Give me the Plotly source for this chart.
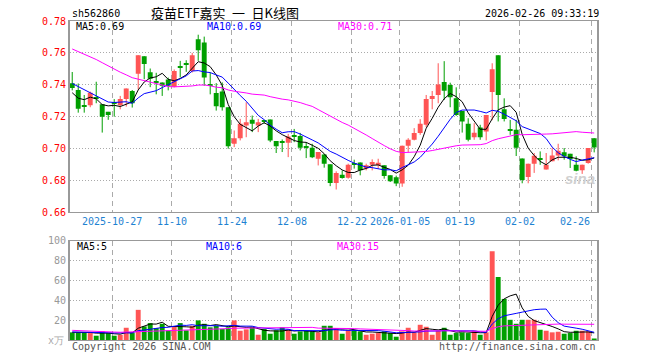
import plotly.graph_objects as go

# ---------------- data ----------------
open_ = [0.741, 0.7367, 0.7263, 0.7271, 0.732, 0.7278, 0.723, 0.729, 0.7271, 0.7311,
         0.7361, 0.7469, 0.7579, 0.7479, 0.7415, 0.7415, 0.7433, 0.7388, 0.7513, 0.7528,
         0.7486, 0.7685, 0.7665, 0.740, 0.7348, 0.7358, 0.7259, 0.703, 0.7065, 0.7144,
         0.718, 0.7144, 0.7171, 0.7182, 0.7047, 0.7037, 0.7036, 0.7076, 0.7078, 0.7005,
         0.7005, 0.6936, 0.6963, 0.6901, 0.6784, 0.6836, 0.6817, 0.6903, 0.6913, 0.6874,
         0.6899, 0.6899, 0.6895, 0.6832, 0.682, 0.678, 0.7018, 0.7055, 0.7097, 0.7149,
         0.7311, 0.7336, 0.7417, 0.7398, 0.7315, 0.7236, 0.7155, 0.707, 0.7132, 0.7107,
         0.7355, 0.7585, 0.7246, 0.7114, 0.7118, 0.6938, 0.6822, 0.6905, 0.693, 0.6868,
         0.692, 0.6957, 0.6976, 0.6967, 0.6899, 0.6863, 0.6909, 0.7065]
high = [0.748, 0.7408, 0.7336, 0.7357, 0.7419, 0.7278, 0.723, 0.731, 0.733, 0.7377,
        0.7367, 0.7585, 0.7579, 0.7502, 0.7475, 0.7415, 0.7445, 0.7496, 0.755, 0.7554,
        0.760, 0.7714, 0.7702, 0.7477, 0.741, 0.7415, 0.7259, 0.7113, 0.7186, 0.729,
        0.7207, 0.7186, 0.7175, 0.7182, 0.7047, 0.7057, 0.7092, 0.7123, 0.7098, 0.704,
        0.703, 0.6978, 0.6967, 0.6901, 0.6857, 0.6863, 0.6905, 0.693, 0.6913, 0.6905,
        0.6932, 0.6936, 0.6895, 0.6832, 0.683, 0.7018, 0.7065, 0.7128, 0.7184, 0.7336,
        0.7361, 0.7535, 0.7548, 0.7413, 0.7384, 0.7236, 0.719, 0.7159, 0.7149, 0.7211,
        0.7535, 0.7585, 0.7315, 0.718, 0.718, 0.6938, 0.6905, 0.6972, 0.6982, 0.6972,
        0.7005, 0.703, 0.7003, 0.6967, 0.6951, 0.6899, 0.7003, 0.7065]
low = [0.7365, 0.7225, 0.7225, 0.7259, 0.7284, 0.710, 0.718, 0.720, 0.7246, 0.7263,
       0.7257, 0.737, 0.7435, 0.7385, 0.734, 0.733, 0.7365, 0.7384, 0.7446, 0.7481,
       0.7477, 0.755, 0.7394, 0.734, 0.7238, 0.7238, 0.6999, 0.7009, 0.7051, 0.7071,
       0.7103, 0.7103, 0.7155, 0.704, 0.6972, 0.6978, 0.6946, 0.704, 0.6988, 0.694,
       0.694, 0.6894, 0.688, 0.6764, 0.6743, 0.6811, 0.6811, 0.6874, 0.6832, 0.6863,
       0.6863, 0.6874, 0.6811, 0.679, 0.6764, 0.676, 0.6976, 0.7051, 0.7086, 0.7134,
       0.7246, 0.7284, 0.7305, 0.7259, 0.7205, 0.710, 0.7045, 0.7055, 0.7055, 0.7051,
       0.7178, 0.717, 0.717, 0.7086, 0.6953, 0.6782, 0.6782, 0.6847, 0.6898, 0.6868,
       0.692, 0.6926, 0.693, 0.6878, 0.6857, 0.6841, 0.6905, 0.6976]
close = [0.738, 0.725, 0.7262, 0.735, 0.7315, 0.720, 0.7211, 0.728, 0.7311, 0.7377,
         0.7284, 0.7585, 0.753, 0.7438, 0.7413, 0.7394, 0.7394, 0.7486, 0.751, 0.7525,
         0.7585, 0.7617, 0.7446, 0.7395, 0.7265, 0.7259, 0.7015, 0.7065, 0.7155, 0.7165,
         0.7155, 0.7165, 0.7169, 0.7051, 0.7015, 0.7036, 0.7075, 0.7074, 0.7005, 0.7004,
         0.6946, 0.6978, 0.6905, 0.6784, 0.6847, 0.6815, 0.6899, 0.6902, 0.6863, 0.6895,
         0.6915, 0.6911, 0.6828, 0.6795, 0.678, 0.7018, 0.7055, 0.7097, 0.7155, 0.7311,
         0.733, 0.7402, 0.7363, 0.7321, 0.7211, 0.7169, 0.7055, 0.7099, 0.707, 0.7211,
         0.7498, 0.7336, 0.7186, 0.7113, 0.7005, 0.6803, 0.6905, 0.6955, 0.6929, 0.6899,
         0.6957, 0.6986, 0.6951, 0.6934, 0.6861, 0.6899, 0.7003, 0.7007]
volume = [7.7, 7.7, 7.7, 7, 4.3, 8.7, 7, 4.3, 5.3, 12.3,
          7, 30.3, 13.7, 17, 12, 16.3, 9.7, 13.7, 17, 9.7,
          14.3, 19.7, 16.3, 12.7, 14.3, 11, 12.7, 19.7, 9.3, 10.7,
          12.7, 5.3, 11, 6.3, 9.7, 12.7, 10.3, 6.3, 8.7, 9.3,
          8.7, 7.7, 14.3, 14.3, 12, 6.3, 10.3, 9.7, 8.7, 5.3,
          6.3, 7, 8.7, 7, 3.3, 8.7, 12.3, 7.7, 15.3, 13.3,
          5.3, 9.3, 12.3, 5.3, 7, 7.7, 7, 9.3, 5.3, 7.7,
          89.3, 63.3, 41.3, 20.3, 16.3, 20.3, 20.3, 20.3, 10.3, 9.3,
          7.7, 8.3, 6.3, 7, 9.3, 9.3, 8.7, 1.3]
# closes / volumes of the 29 sessions before the window (estimated from the MA lines)
close_before = [0.772, 0.778, 0.781, 0.785, 0.780, 0.783, 0.7855,
                0.790, 0.788, 0.782, 0.786, 0.781, 0.7774,
                0.771, 0.766, 0.760, 0.755, 0.750, 0.748, 0.7467,
                0.745, 0.744, 0.755, 0.752, 0.737,
                0.742, 0.731, 0.727, 0.737]
volume_before = [18, 15, 17, 16, 17, 9, 8, 10, 7, 9, 8, 9, 10, 8, 7,
                 9, 8, 9, 8, 9, 8, 9, 8, 9, 8, 8, 7, 8, 8]
date_labels = ["2025-10-27", "11-10", "11-24", "12-08", "12-22",
               "2026-01-05", "01-19", "02-02", "02-26"]
date_label_idx = [7, 17, 27, 37, 47, 55, 65, 75, 87]
price_ticks = [0.66, 0.68, 0.70, 0.72, 0.74, 0.76, 0.78]
vol_ticks = [20, 40, 60, 80, 100]
vol_ma_labels = ["MA5:5", "MA10:6", "MA30:15"]
ma_periods = [5, 10, 30]
symbol = "sh562860"
title_text = "疫苗ETF嘉实\u2002一\u2002日K线图"
timestamp = "2026-02-26 09:33:19"

# ---------------- styles ----------------
RED = "#ff5555"
GREEN = "#009f00"
MA_COLORS = ["#000000", "#0000ff", "#ff00ff"]
MONO = "DejaVu Sans Mono"
CJK = "Noto Sans CJK SC"
GRID = "#aaaaaa"
FRAME = "#999999"

n = len(close)
xs = list(range(n))
is_up = [c > o for o, c in zip(open_, close)]


def moving_avg(before, vals, k):
    full = list(before) + list(vals)
    off = len(before)
    return [sum(full[off + i - k + 1: off + i + 1]) / k for i in range(len(vals))]


fig = go.Figure()

# wicks
for flag, col in [(True, RED), (False, GREEN)]:
    wx, wy = [], []
    for i in range(n):
        if is_up[i] == flag:
            wx += [i, i, None]
            wy += [low[i], high[i], None]
    fig.add_trace(go.Scatter(x=wx, y=wy, mode="lines", line=dict(color=col, width=1),
                             xaxis="x", yaxis="y", hoverinfo="skip"))

# bodies
for flag, col in [(True, RED), (False, GREEN)]:
    bx, bbase, bh = [], [], []
    for i in range(n):
        if is_up[i] == flag:
            bx.append(i)
            bbase.append(min(open_[i], close[i]))
            bh.append(max(abs(close[i] - open_[i]), 0.0006))
    fig.add_trace(go.Bar(x=bx, y=bh, base=bbase, width=0.82, marker=dict(color=col, line=dict(width=0)),
                         xaxis="x", yaxis="y"))

# price MAs
price_mas = [moving_avg(close_before, close, k) for k in ma_periods]
for ma, col in zip(price_mas, MA_COLORS):
    fig.add_trace(go.Scatter(x=xs, y=ma, mode="lines", line=dict(color=col, width=1),
                             xaxis="x", yaxis="y"))

# volume bars
fig.add_trace(go.Bar(x=xs, y=volume, width=0.82,
                     marker=dict(color=[RED if u else GREEN for u in is_up], line=dict(width=0)),
                     xaxis="x2", yaxis="y2"))
vol_mas = [moving_avg(volume_before, volume, k) for k in ma_periods]
for ma, col in zip(vol_mas, MA_COLORS):
    fig.add_trace(go.Scatter(x=xs, y=ma, mode="lines", line=dict(color=col, width=1),
                             xaxis="x2", yaxis="y2"))

# ---------------- layout ----------------
L, R, T, B = 70, 63, 21, 20
W, H = 660, 360
PW, PH = W - L - R, H - T - B


def px(xp):
    return (xp - L) / PW


def py(yp):
    return (H - B - yp) / PH


grid_x = [i - 0.37 for i in date_label_idx]
xcommon = dict(range=[-0.37, n - 0.53], tickvals=grid_x, showticklabels=False,
               showgrid=True, gridcolor=GRID, gridwidth=1, griddash="5px,4px",
               zeroline=False, showline=True, mirror=True, linecolor=FRAME, linewidth=1,
               ticks="", fixedrange=True)

fig.update_layout(
    width=W, height=H, margin=dict(l=L, r=R, t=T, b=B, autoexpand=False),
    paper_bgcolor="white", plot_bgcolor="white", showlegend=False,
    barmode="overlay", hovermode=False,
    xaxis=dict(domain=[0, 1], anchor="y", **xcommon),
    xaxis2=dict(domain=[0, 1], anchor="y2", matches="x", **xcommon),
    yaxis=dict(domain=[py(212.3), 1], range=[0.66, 0.78], anchor="x",
               tickvals=price_ticks, ticktext=[f"{v:.2f}" for v in price_ticks],
               tickfont=dict(family=MONO, size=10, color="#ff0000"),
               showgrid=True, gridcolor=GRID, griddash="1px,2px", zeroline=False,
               showline=True, mirror=True, linecolor=FRAME, linewidth=2, ticks="",
               ticklabelstandoff=0),
    yaxis2=dict(domain=[0, py(240.5)], range=[0, 100], anchor="x2",
                tickvals=vol_ticks, ticktext=[str(v) for v in vol_ticks],
                tickfont=dict(family=MONO, size=10, color="#999999"),
                showgrid=True, gridcolor=GRID, griddash="1px,2px", zeroline=False,
                showline=True, mirror=True, linecolor=FRAME, linewidth=2, ticks="",
                ticklabelstandoff=0),
)

ann = []


def text(x, y, s, color="#000000", size=10, family=MONO, xanchor="left", xref="paper"):
    ann.append(dict(x=x, y=y, xref=xref, yref="paper", text=s, showarrow=False,
                    xanchor=xanchor, yanchor="middle",
                    font=dict(family=family, size=size, color=color)))


text(px(70), py(13.5), symbol)
text(px(149), py(12.5), title_text, size=13, family=CJK)
text(px(601), py(13.5), timestamp, xanchor="right")

ma_x = [74, 205, 336]
for k, ma, col, xx in zip(ma_periods, price_mas, MA_COLORS, ma_x):
    text(px(xx), py(26.5), f"MA{k}:{ma[-1]:.2f}", color=col)
for lab, col, xx in zip(vol_ma_labels, MA_COLORS, [75, 204, 335]):
    text(px(xx), py(246), lab, color=col)

for idx, lab in zip(date_label_idx, date_labels):
    last = idx == date_label_idx[-1]
    text(idx - 0.37, py(221.7), lab, color="#1e82d2", xref="x",
         xanchor="right" if last else "center")

text(px(66), py(340.5), "x万", color="#aaaaaa", xanchor="right")
text(px(70), py(346), "Copyright 2026 SINA.COM", color="#555555")
text(px(598), py(346), "http://finance.sina.com.cn", color="#555555", xanchor="right")
ann.append(dict(x=px(597), y=py(178), xref="paper", yref="paper", text="<b><i>sina</i></b>",
                showarrow=False, xanchor="right", yanchor="middle",
                font=dict(family="Liberation Sans", size=15, color="#d0d0d0")))

fig.update_layout(annotations=ann)
fig.write_html("out.html")
